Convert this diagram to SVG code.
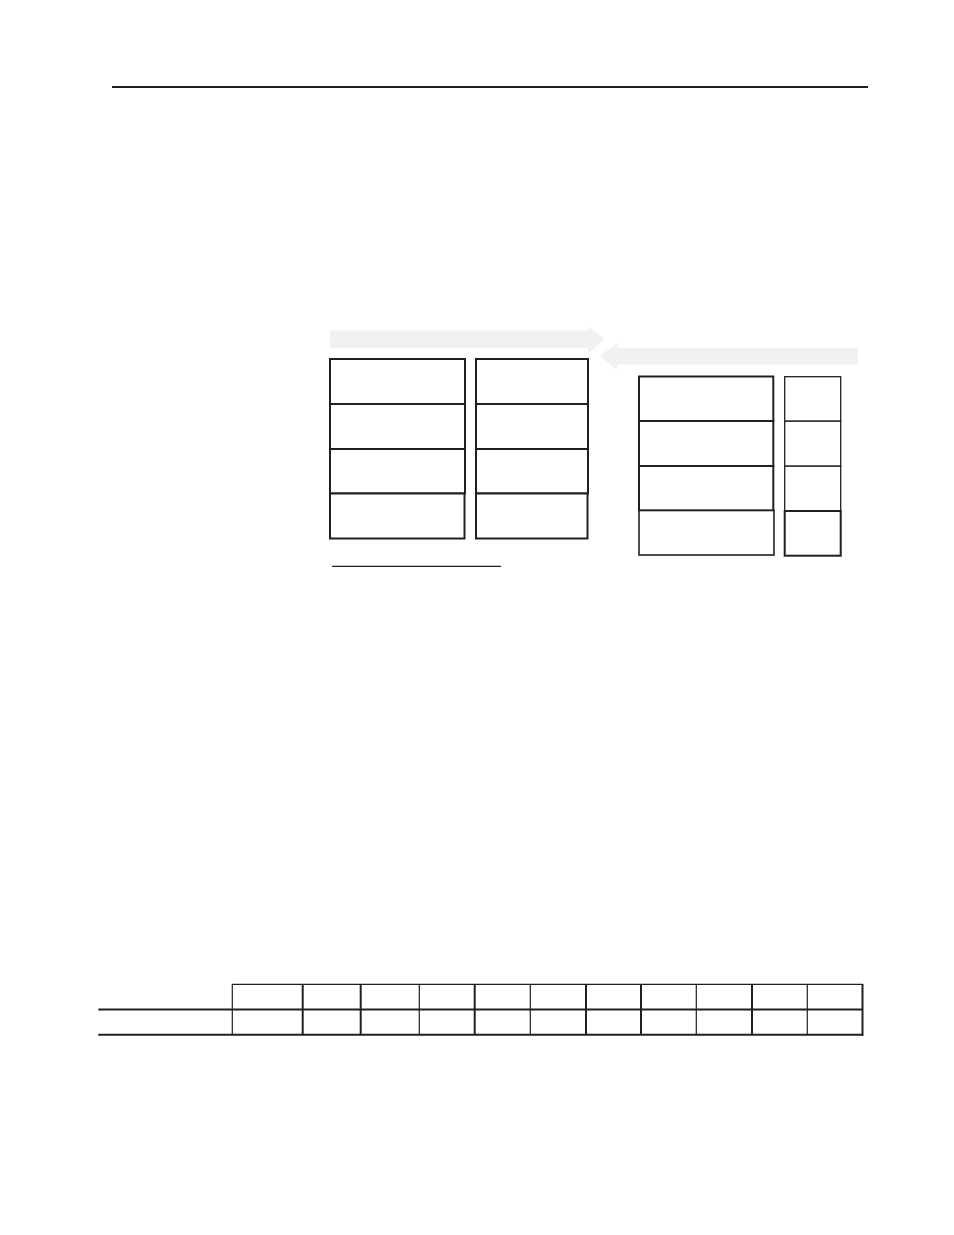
<svg xmlns="http://www.w3.org/2000/svg" width="954" height="1235" viewBox="0 0 954 1235">
<style>
.bx{fill:#ffffff;stroke:#231f20;stroke-width:2}
.bt{fill:#ffffff;stroke:#231f20;stroke-width:1.3}
.ar{fill:#f1f1f1;stroke:none}
.ln{stroke:#231f20;fill:none}
</style>
<rect x="0" y="0" width="954" height="1235" fill="#ffffff"/>
<line class="ln" x1="112" y1="87" x2="868" y2="87" stroke-width="2"/>
<g id="connectors">
<polygon id="arrow-right" class="ar" points="330,330.5 588,330.5 588,326 605,339.5 588,353 588,348 330,348"/>
<polygon id="arrow-left" class="ar" points="858,348 617,348 617,343 600,356 617,370 617,364.5 858,364.5"/>
</g>
<g id="left-col1">
<rect id="l1a" class="bx" x="330" y="359" width="135" height="45"/>
<rect id="l1b" class="bx" x="330" y="404" width="135" height="45"/>
<rect id="l1c" class="bx" x="330" y="449" width="135" height="44.5"/>
<rect id="l1d" class="bx" x="330" y="493.5" width="134.5" height="45"/>
</g>
<g id="left-col2">
<rect id="l2a" class="bx" x="476" y="359" width="112" height="45"/>
<rect id="l2b" class="bx" x="476" y="404" width="112" height="45"/>
<rect id="l2c" class="bx" x="476" y="449" width="112" height="44.5"/>
<rect id="l2d" class="bx" x="476" y="493.5" width="111.5" height="45"/>
</g>
<line class="ln" x1="332" y1="566.3" x2="501" y2="566.3" stroke-width="1.3"/>
<g id="right-col1">
<rect id="r1a" class="bx" x="639" y="376.5" width="134.3" height="44.5"/>
<rect id="r1b" class="bx" x="639" y="421" width="134.3" height="45"/>
<rect id="r1c" class="bx" x="639" y="466" width="134.3" height="44.5"/>
<rect id="r1d" class="bx" x="639" y="510.5" width="135" height="44.5" style="stroke-width:1.6"/>
</g>
<g id="right-col2">
<rect id="r2a" class="bt" x="784.7" y="376.7" width="56" height="44.5"/>
<rect id="r2b" class="bt" x="784.7" y="421.2" width="56" height="45"/>
<rect id="r2c" class="bt" x="784.7" y="466.2" width="56" height="44.8"/>
<rect id="r2d" class="bx" x="784.7" y="511" width="56" height="44.7"/>
</g>
<g id="table">
<line class="ln" x1="232.3" y1="984.3" x2="863" y2="984.3" stroke-width="1.2"/>
<line class="ln" x1="98.3" y1="1009.5" x2="863" y2="1009.5" stroke-width="2"/>
<line class="ln" x1="98.3" y1="1034.8" x2="863" y2="1034.8" stroke-width="2"/>
<g stroke="#231f20" stroke-width="1.2">
<line x1="232.3" y1="984" x2="232.3" y2="1035"/>
<line x1="419.3" y1="984" x2="419.3" y2="1035"/>
<line x1="530.3" y1="984" x2="530.3" y2="1035"/>
<line x1="696.3" y1="984" x2="696.3" y2="1035"/>
<line x1="807.3" y1="984" x2="807.3" y2="1035"/>
</g>
<g stroke="#231f20" stroke-width="2">
<line x1="302.7" y1="984" x2="302.7" y2="1035"/>
<line x1="360.7" y1="984" x2="360.7" y2="1035"/>
<line x1="474.7" y1="984" x2="474.7" y2="1035"/>
<line x1="586" y1="984" x2="586" y2="1035"/>
<line x1="641" y1="984" x2="641" y2="1035"/>
<line x1="752" y1="984" x2="752" y2="1035"/>
<line x1="862.5" y1="984" x2="862.5" y2="1035.8"/>
</g>
</g>
</svg>
